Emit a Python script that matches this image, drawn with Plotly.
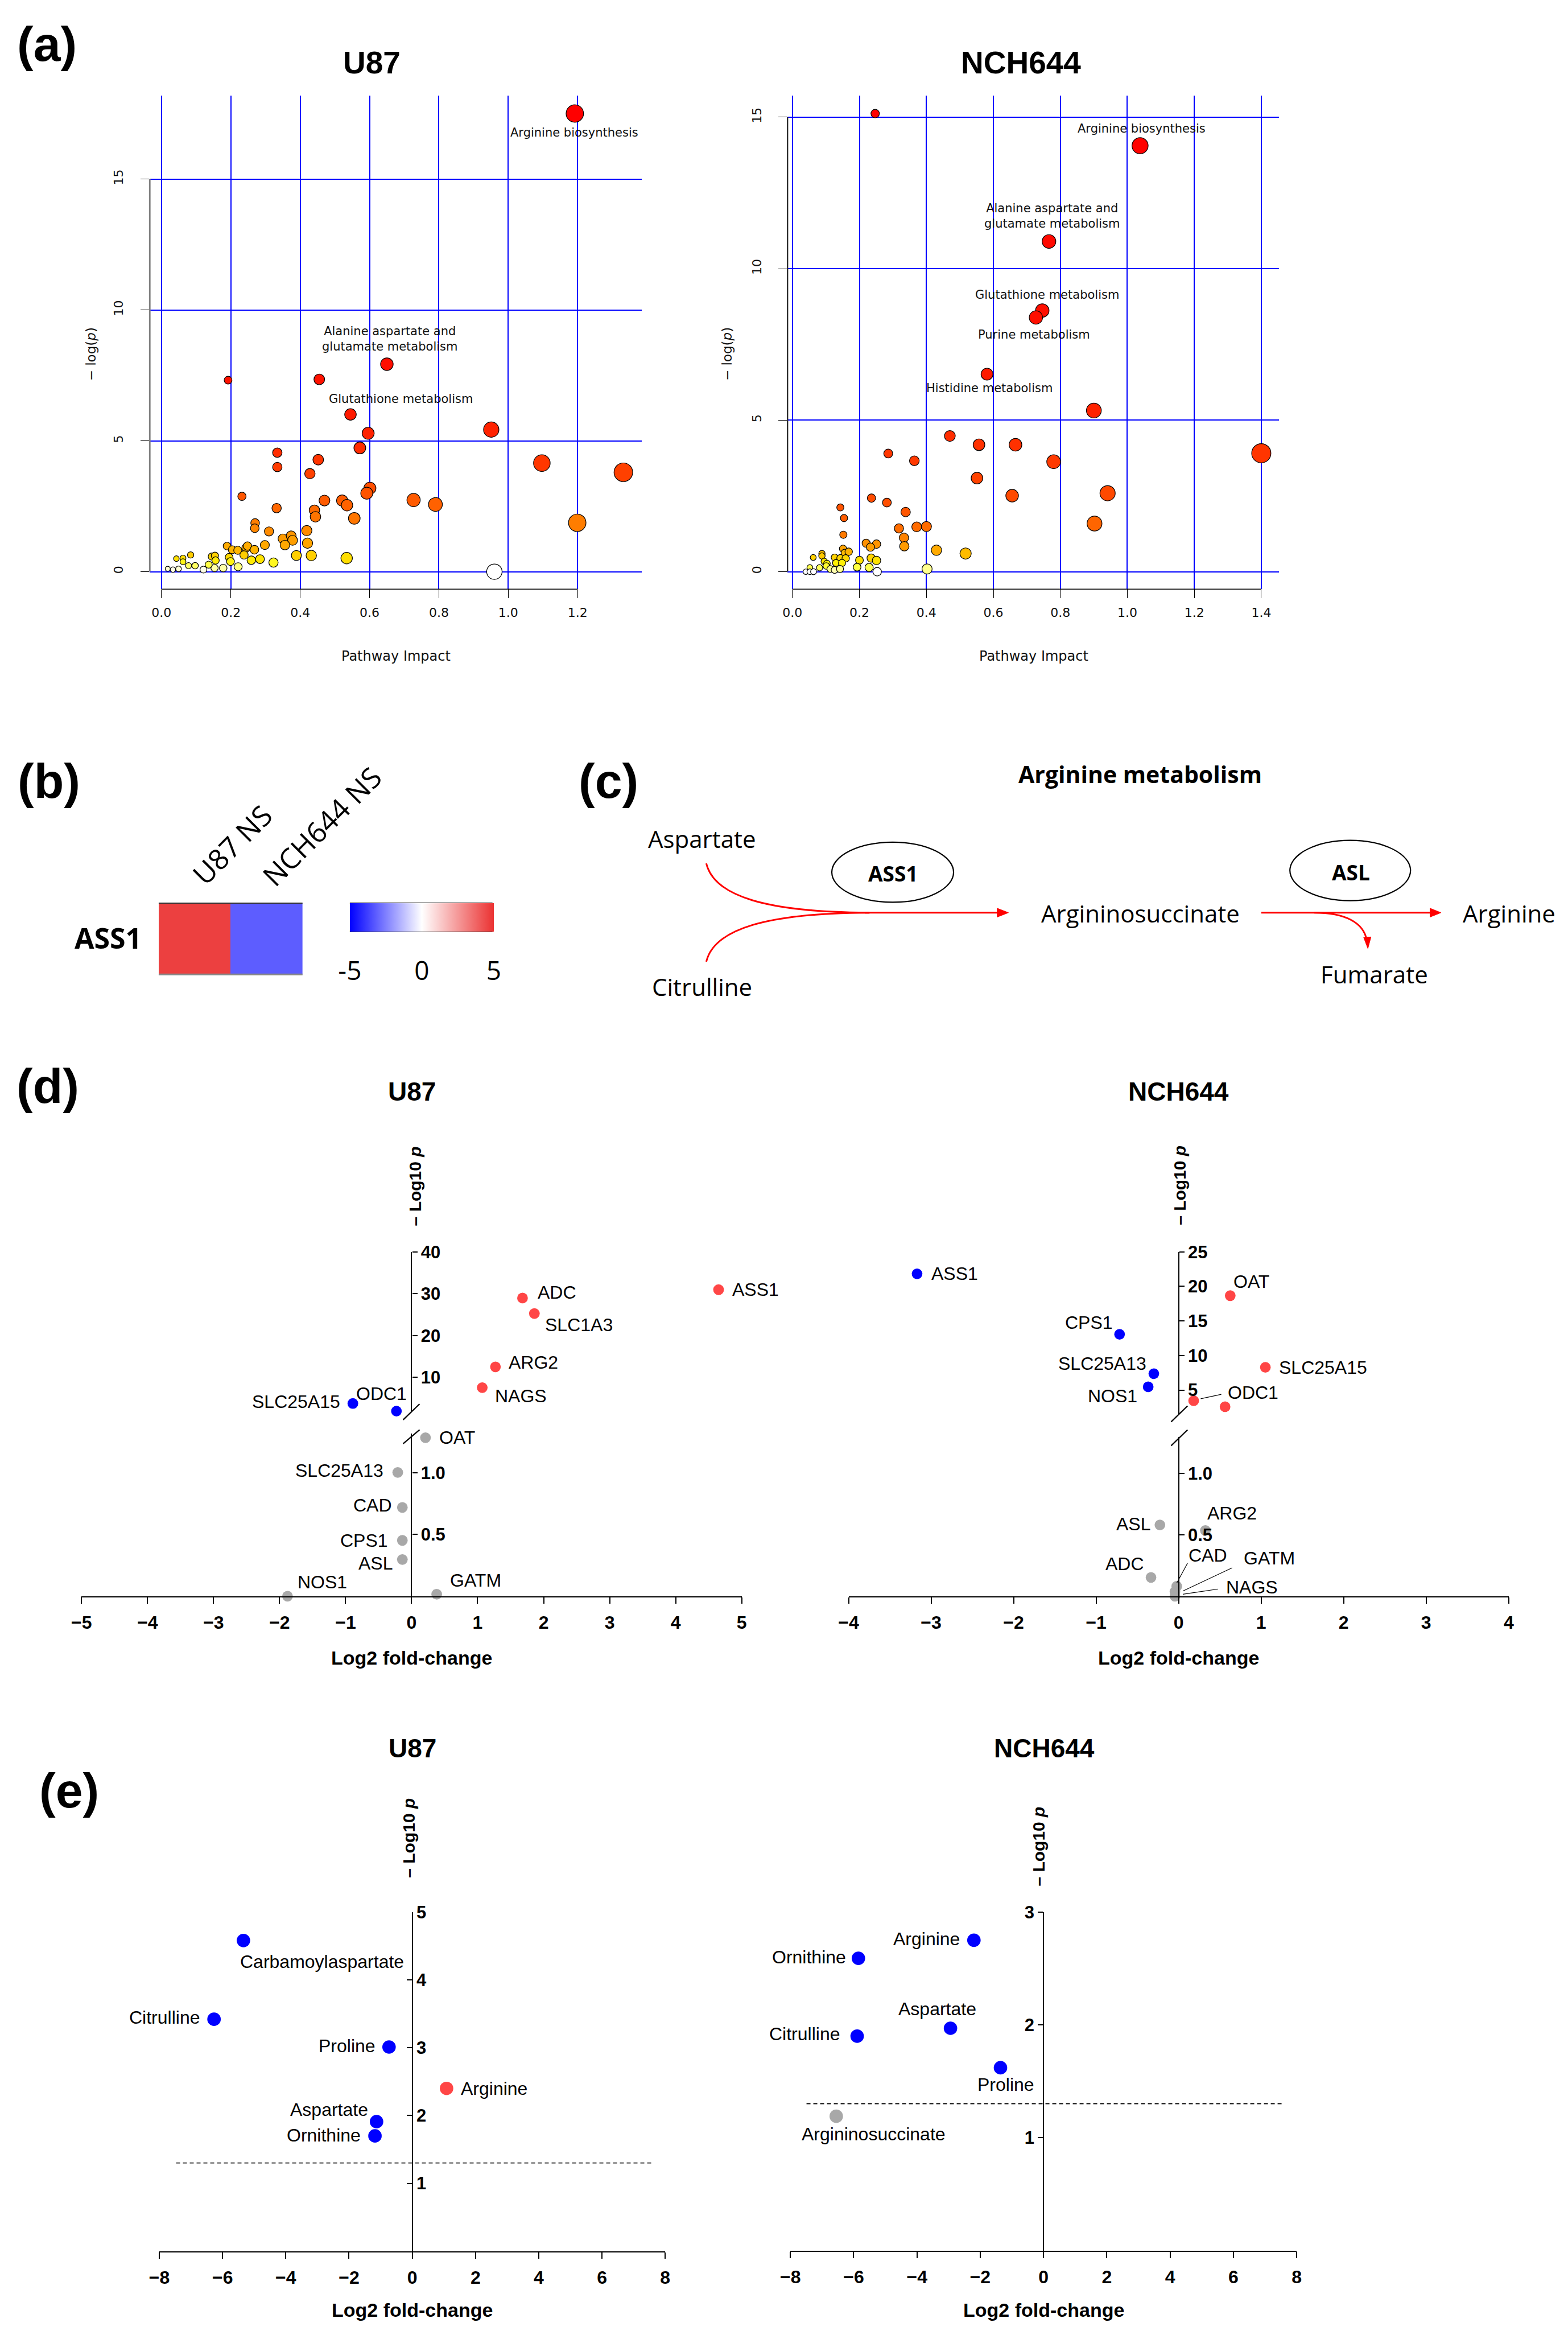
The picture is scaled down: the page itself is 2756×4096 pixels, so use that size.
import math
import plotly.graph_objects as go

W, H = 2756, 4096
RW, RH = 3379.0, 5022.0
K = W / RW
BODY = 8                      # default browser body margin around the figure div
FW, FH = W - 2 * BODY, H - 2 * BODY


def X(f):
    return (f * K - BODY) / FW


def Y(f):
    return 1.0 - (f * K - BODY) / FH


def L(f):
    return f * K


# ======================= DATA =======================
# (a) Pathway impact vs -log(p)
u87_impact = [1.192, 0.650, 0.192, 0.455, 0.545, 0.596, 0.951, 0.572, 1.097, 1.332, 0.601, 0.592, 0.521, 0.535, 0.727, 0.790, 0.556, 1.199, 0.534, 0.960,
              0.334, 0.334, 0.452, 0.428, 0.232, 0.332, 0.470, 0.441, 0.444, 0.270, 0.269, 0.310, 0.419, 0.350, 0.374, 0.378, 0.356, 0.421, 0.298, 0.189,
              0.204, 0.220, 0.244, 0.248, 0.268, 0.238, 0.259, 0.284, 0.323, 0.389, 0.432, 0.195, 0.199, 0.221, 0.178, 0.153, 0.121, 0.145, 0.154, 0.156,
              0.136, 0.097, 0.078, 0.084, 0.062, 0.062, 0.043, 0.049, 0.033, 0.018]
u87_logp = [17.51, 7.93, 7.32, 7.35, 6.01, 5.29, 5.43, 4.73, 4.15, 3.80, 3.19, 3.00, 2.72, 2.54, 2.74, 2.57, 2.04, 1.87, 0.52, 0.00,
            4.55, 4.00, 4.28, 3.75, 2.88, 2.43, 2.72, 2.35, 2.10, 1.86, 1.66, 1.54, 1.57, 1.26, 1.37, 1.20, 1.02, 1.09, 1.02, 0.98,
            0.84, 0.82, 0.91, 0.98, 0.84, 0.64, 0.44, 0.48, 0.35, 0.62, 0.62, 0.55, 0.39, 0.19, 0.14, 0.14, 0.08, 0.58, 0.61, 0.43,
            0.27, 0.23, 0.23, 0.64, 0.52, 0.38, 0.50, 0.11, 0.08, 0.11]
nch_impact = [0.247, 1.038, 0.766, 0.746, 0.727, 0.581, 0.900, 0.470, 0.557, 0.666, 1.400, 0.780, 0.551, 0.941, 0.656, 0.902, 0.517, 0.430,
              0.286, 0.364, 0.143, 0.154, 0.152, 0.236, 0.282, 0.338, 0.318, 0.371, 0.400, 0.333, 0.334, 0.220, 0.251, 0.233,
              0.151, 0.156, 0.168, 0.088, 0.088, 0.062, 0.126, 0.143, 0.159, 0.095, 0.103, 0.130, 0.148, 0.200, 0.235, 0.251,
              0.081, 0.101, 0.113, 0.126, 0.142, 0.193, 0.229, 0.253, 0.052, 0.040, 0.052, 0.063, 0.402]
nch_logp = [15.12, 14.06, 10.90, 8.62, 8.39, 6.52, 5.32, 4.48, 4.19, 4.19, 3.91, 3.63, 3.09, 2.59, 2.51, 1.59, 0.60, 0.71,
            3.90, 3.66, 2.12, 1.77, 1.22, 2.43, 2.28, 1.97, 1.43, 1.48, 1.49, 1.12, 0.84, 0.94, 0.91, 0.81,
            0.76, 0.62, 0.66, 0.60, 0.52, 0.47, 0.47, 0.45, 0.44, 0.34, 0.27, 0.29, 0.29, 0.38, 0.45, 0.37,
            0.13, 0.19, 0.09, 0.06, 0.09, 0.15, 0.14, 0.00, 0.14, 0.00, 0.00, 0.00, 0.09]
u87_pathways = ["Arginine biosynthesis", "Alanine aspartate and<br>glutamate metabolism", "Glutathione metabolism"]
nch_pathways = ["Arginine biosynthesis", "Alanine aspartate and<br>glutamate metabolism", "Glutathione metabolism",
                "Purine metabolism", "Histidine metabolism"]
a_xticks_u87 = [0.0, 0.2, 0.4, 0.6, 0.8, 1.0, 1.2]
a_xticks_nch = [0.0, 0.2, 0.4, 0.6, 0.8, 1.0, 1.2, 1.4]
a_yticks = [0, 5, 10, 15]

# (b) heatmap
heat_rows = ["ASS1"]
heat_cols = ["U87 NS", "NCH644 NS"]
ass1_log2fc = [4.65, -3.17]

# (d) gene volcano plots (upper = above axis break, lower = below)
d_u87_up_genes = ["ASS1", "ADC", "SLC1A3", "ARG2", "NAGS", "SLC25A15", "ODC1"]
d_u87_up_fc = [4.65, 1.68, 1.86, 1.27, 1.07, -0.89, -0.23]
d_u87_up_p = [30.95, 28.95, 25.24, 12.48, 7.52, 3.71, 1.90]
d_u87_lo_genes = ["OAT", "SLC25A13", "CAD", "CPS1", "ASL", "NOS1", "GATM"]
d_u87_lo_fc = [0.21, -0.21, -0.14, -0.14, -0.14, -1.88, 0.38]
d_u87_lo_p = [1.284, 1.003, 0.719, 0.452, 0.297, 0.0, 0.016]

d_nch_up_genes = ["ASS1", "OAT", "CPS1", "SLC25A15", "SLC25A13", "NOS1", "ODC1", "SLC1A3"]
d_nch_up_fc = [-3.17, 0.625, -0.716, 1.051, -0.301, -0.369, 0.182, 0.5625]
d_nch_up_p = [21.83, 18.66, 13.07, 8.29, 7.36, 5.46, 3.44, 2.58]
d_nch_lo_genes = ["ASL", "ARG2", "ADC", "CAD", "GATM", "NAGS"]
d_nch_lo_fc = [-0.227, 0.324, -0.335, -0.023, -0.045, -0.045]
d_nch_lo_p = [0.581, 0.536, 0.153, 0.081, 0.036, 0.0]

d_u87_xticks = [-5, -4, -3, -2, -1, 0, 1, 2, 3, 4, 5]
d_nch_xticks = [-4, -3, -2, -1, 0, 1, 2, 3, 4]
d_u87_up_yticks = [10, 20, 30, 40]
d_nch_up_yticks = [5, 10, 15, 20, 25]
d_lo_yticks = [0.5, 1.0]
d_lo_yticktext = ["0.5", "1.0"]

# (e) metabolite volcano plots
e_u87_mets = ["Carbamoylaspartate", "Citrulline", "Proline", "Arginine", "Aspartate", "Ornithine"]
e_u87_fc = [-5.34, -6.27, -0.735, 1.084, -1.13, -1.18]
e_u87_p = [4.58, 3.42, 3.01, 2.40, 1.91, 1.70]
e_nch_mets = ["Arginine", "Ornithine", "Aspartate", "Citrulline", "Proline", "Argininosuccinate"]
e_nch_fc = [-2.20, -5.85, -2.94, -5.89, -1.36, -6.55]
e_nch_p = [2.75, 2.59, 1.97, 1.90, 1.62, 1.19]
e_threshold = 1.301
e_xticks = [-8, -6, -4, -2, 0, 2, 4, 6, 8]
e_u87_yticks = [1, 2, 3, 4, 5]
e_nch_yticks = [1, 2, 3]

# ======================= STYLE =======================
RED = "#FF4646"
BLUE = "#0000FF"
GREY = "#A8A8A8"
ARIAL = "Liberation Sans"
RFONT = "DejaVu Sans"
CAL = "Open Sans"

fig = go.Figure()
shapes = []
anns = []


def ann(text, x, y, size, family=ARIAL, xref="paper", yref="paper", xanchor="center",
        yanchor="middle", angle=0, weight="normal", color="black"):
    anns.append(dict(text=text, x=x, y=y, xref=xref, yref=yref, xanchor=xanchor, yanchor=yanchor,
                     showarrow=False, textangle=angle,
                     font=dict(family=family, size=size, color=color, weight=weight)))


# ---------------- (a) ----------------
def bubble(v):
    return L(9 + 12 * math.sqrt(v) + 13 * v)


def cscale(stops):
    vmax = stops[-1][0]
    return [[v / vmax, c] for v, c in stops]


u87_stops = [(0, "#FFFFFF"), (0.1, "#FFFFE4"), (0.15, "#FFFF98"), (0.3, "#FFFF30"), (0.45, "#FFE800"),
             (0.6, "#FFD200"), (0.85, "#FFB200"), (1.2, "#FF9E00"), (1.6, "#FF8800"), (2.2, "#FF7000"),
             (2.8, "#FF5800"), (3.8, "#FF4000"), (4.5, "#FF2E00"), (6, "#FF1A00"), (8, "#FF0E00"),
             (max(u87_logp), "#FF0000")]
nch_stops = [(0, "#FFFFFF"), (0.02, "#FFFFDC"), (0.09, "#FFFF90"), (0.15, "#FFFF40"), (0.3, "#FFEE00"),
             (0.45, "#FFD400"), (0.6, "#FFBC00"), (0.75, "#FFA400"), (0.95, "#FF9000"), (1.3, "#FF7400"),
             (1.8, "#FF5A00"), (2.4, "#FF4C00"), (4, "#FF3400"), (5.3, "#FF2200"), (8, "#FF1000"),
             (max(nch_logp), "#FF0000")]

for xs, ys, stops, xa, ya in [(u87_impact, u87_logp, u87_stops, "x", "y"),
                               (nch_impact, nch_logp, nch_stops, "x2", "y2")]:
    fig.add_trace(go.Scatter(
        x=xs, y=ys, mode="markers", xaxis=xa, yaxis=ya, cliponaxis=False, showlegend=False,
        hoverinfo="skip",
        marker=dict(size=[bubble(v) for v in xs], color=ys, colorscale=cscale(stops), opacity=1,
                    cmin=0, cmax=stops[-1][0], line=dict(color="black", width=1.2))))

a_common = dict(showgrid=True, gridcolor="#0000FF", gridwidth=1.5, zeroline=True,
                zerolinecolor="#0000FF", zerolinewidth=1.5, showline=False, ticks="outside",
                ticklen=15, tickwidth=1.3, tickcolor="black",
                tickfont=dict(family=RFONT, size=22, color="#111"))
layout_axes = {}
layout_axes["xaxis"] = dict(domain=[X(303.6), X(1374.3)], range=[-0.0338, 1.385], tickvals=a_xticks_u87,
                            tickformat=".1f", anchor="y", ticklabelstandoff=6, **a_common)
layout_axes["yaxis"] = dict(domain=[Y(1253.7), Y(186.1)], range=[-0.668, 18.19], tickvals=a_yticks,
                            tickangle=-90, anchor="x", ticklabelstandoff=22, **a_common)
layout_axes["xaxis2"] = dict(domain=[X(1691.9), X(2761.8)], range=[-0.0143, 1.4536], tickvals=a_xticks_nch,
                             tickformat=".1f", anchor="y2", ticklabelstandoff=6, **a_common)
layout_axes["yaxis2"] = dict(domain=[Y(1253.7), Y(186.1)], range=[-0.577, 15.71], tickvals=a_yticks,
                             tickangle=-90, anchor="x2", ticklabelstandoff=22, **a_common)

shapes += [
    dict(type="line", xref="x", yref="y domain", x0=a_xticks_u87[0], x1=a_xticks_u87[-1], y0=0, y1=0,
         line=dict(color="black", width=1.6)),
    dict(type="line", xref="x domain", yref="y", x0=0, x1=0, y0=a_yticks[0], y1=a_yticks[-1],
         line=dict(color="#808080", width=2.8)),
    dict(type="line", xref="x2", yref="y2 domain", x0=a_xticks_nch[0], x1=a_xticks_nch[-1], y0=0, y1=0,
         line=dict(color="black", width=1.6)),
    dict(type="line", xref="x2 domain", yref="y2", x0=0, x1=0, y0=a_yticks[0], y1=a_yticks[-1],
         line=dict(color="black", width=1.8)),
]

u87_lab_pos = [(1.190, 16.79), (0.659, 8.89), (0.690, 6.60)]
nch_lab_pos = [(1.043, 14.63), (0.775, 11.74), (0.760, 9.14), (0.722, 7.83), (0.588, 6.06)]
for t, (lx, ly) in zip(u87_pathways, u87_lab_pos):
    ann(t, lx, ly, 21, family=RFONT, xref="x", yref="y", color="#111")
for t, (lx, ly) in zip(nch_pathways, nch_lab_pos):
    ann(t, lx, ly, 21, family=RFONT, xref="x2", yref="y2", color="#111")

ann("U87", X(787), Y(114), 55, weight="bold")
ann("NCH644", X(2200), Y(114), 55, weight="bold")
ann("Pathway Impact", X(839), Y(1398), 24, family=RFONT, color="#111")
ann("Pathway Impact", X(2227), Y(1398), 24, family=RFONT, color="#111")
ann("\u2212 log(<i>p</i>)", X(176), Y(745), 23, family=RFONT, angle=-90, color="#111")
ann("\u2212 log(<i>p</i>)", X(1560), Y(745), 23, family=RFONT, angle=-90, color="#111")

# ---------------- (b) ----------------
fig.add_trace(go.Heatmap(
    z=[ass1_log2fc], x=heat_cols, y=heat_rows, xaxis="x3", yaxis="y3", zmin=-5, zmax=5,
    colorscale=[[0, "#0000FF"], [0.5, "#FFFFFF"], [1, "#EB3232"]], hoverinfo="skip",
    colorbar=dict(orientation="h", x=X(739), xanchor="left", y=Y(1932.7), yanchor="top",
                  len=L(310.5), lenmode="pixels", thickness=L(61.3), thicknessmode="pixels",
                  outlinewidth=0, xpad=0, ypad=0, tickvals=[-5, 0, 5], ticktext=["-5", "0", "5"],
                  ticks="outside", ticklen=30, tickcolor="rgba(0,0,0,0)",
                  tickfont=dict(family=CAL, size=46, color="black"))))
layout_axes["xaxis3"] = dict(domain=[X(323), X(636)], visible=False, anchor="y3")
layout_axes["yaxis3"] = dict(domain=[Y(2087.7), Y(1932.7)], visible=False, anchor="x3")
shapes += [
    dict(type="line", xref="paper", yref="paper", x0=X(323), x1=X(636), y0=Y(1933), y1=Y(1933),
         line=dict(color="#333", width=2)),
    dict(type="line", xref="paper", yref="paper", x0=X(323), x1=X(636), y0=Y(2087), y1=Y(2087),
         line=dict(color="#888", width=3)),
    dict(type="line", xref="paper", yref="paper", x0=X(739), x1=X(1049.5), y0=Y(1933.5), y1=Y(1933.5),
         line=dict(color="black", width=3)),
    dict(type="line", xref="paper", yref="paper", x0=X(739), x1=X(1049.5), y0=Y(1993.5), y1=Y(1993.5),
         line=dict(color="black", width=3)),
    dict(type="line", xref="paper", yref="paper", x0=X(894.3), x1=X(894.3), y0=Y(1933), y1=Y(1994),
         line=dict(color="black", width=1.3)),
]
ann("ASS1", X(213), Y(2008), 50, family=CAL, weight="bold")
ann(heat_cols[0], X(483), Y(1806), 50, family=CAL, angle=-45)
ann(heat_cols[1], X(678), Y(1767), 50, family=CAL, angle=-45)

# ---------------- (c) ----------------


def pt(xf, yf):
    return f"{X(xf):.6f},{Y(yf):.6f}"


red_line = dict(color="#FF0000", width=L(3.6))
paths = [
    f"M {pt(1514.8, 1847)} C {pt(1532, 1918)} {pt(1644.7, 1952.3)} {pt(1870, 1953.5)}",
    f"M {pt(1514.8, 2059.5)} C {pt(1532, 1989)} {pt(1644.7, 1954.6)} {pt(1870, 1953.5)}",
    f"M {pt(1860, 1953.5)} L {pt(2152, 1953.5)}",
    f"M {pt(2722.7, 1953.5)} L {pt(3094, 1953.5)}",
    f"M {pt(2838, 1953.5)} C {pt(2905, 1953.5)} {pt(2945, 1975)} {pt(2952, 2012)}",
]
for p in paths:
    shapes.append(dict(type="path", xref="paper", yref="paper", path=p, line=red_line))
heads = [
    f"M {pt(2172.4, 1953.5)} L {pt(2148, 1944)} L {pt(2148, 1963)} Z",
    f"M {pt(3113.8, 1953.5)} L {pt(3090, 1944)} L {pt(3090, 1963)} Z",
    f"M {pt(2954.7, 2031)} L {pt(2945.5, 2007)} L {pt(2961.5, 2006)} Z",
]
for p in heads:
    shapes.append(dict(type="path", xref="paper", yref="paper", path=p, fillcolor="#FF0000",
                       line=dict(color="#FF0000", width=1)))
shapes += [
    dict(type="circle", xref="paper", yref="paper", x0=X(1788), x1=X(2053), y0=Y(1931), y1=Y(1801),
         line=dict(color="black", width=2.2)),
    dict(type="circle", xref="paper", yref="paper", x0=X(2785), x1=X(3047.5), y0=Y(1927.5), y1=Y(1797),
         line=dict(color="black", width=2.2)),
]
ann("Arginine metabolism", X(2459), Y(1653), 41, family=CAL, weight="bold")
ann("Aspartate", X(1505.5), Y(1793.5), 42, family=CAL)
ann("Citrulline", X(1505.5), Y(2113), 42, family=CAL)
ann("Argininosuccinate", X(2460), Y(1954), 42, family=CAL)
ann("Arginine", X(3262), Y(1954), 42, family=CAL)
ann("Fumarate", X(2968), Y(2086), 42, family=CAL)
ann("ASS1", X(1920.5), Y(1868), 37, family=CAL, weight="bold")
ann("ASL", X(2917.6), Y(1866), 37, family=CAL, weight="bold")

# ---------------- (d) ----------------


def sign_color(fc):
    return RED if fc > 0 else BLUE


msize_d = L(23)
for xs, ys, xa, ya, col in [
    (d_u87_up_fc, d_u87_up_p, "x4", "y5", [sign_color(v) for v in d_u87_up_fc]),
    (d_u87_lo_fc, d_u87_lo_p, "x4", "y4", [GREY] * len(d_u87_lo_fc)),
    (d_nch_up_fc, d_nch_up_p, "x5", "y7", [sign_color(v) for v in d_nch_up_fc]),
    (d_nch_lo_fc, d_nch_lo_p, "x5", "y6", [GREY] * len(d_nch_lo_fc)),
]:
    fig.add_trace(go.Scatter(x=xs, y=ys, mode="markers", xaxis=xa, yaxis=ya, cliponaxis=False,
                             showlegend=False, hoverinfo="skip",
                             marker=dict(size=msize_d, color=col, line=dict(width=0))))

vx_common = dict(showgrid=False, zeroline=False, showline=True, linecolor="black", linewidth=2.2,
                 ticks="outside", ticklen=11, tickwidth=2, tickcolor="black",
                 tickfont=dict(family=ARIAL, size=32, color="black", weight="bold"))
vy_common = dict(showgrid=False, zeroline=False, showline=True, linecolor="black", linewidth=2.2,
                 ticks="outside", ticklen=9, tickwidth=2, tickcolor="black", anchor="free",
                 tickfont=dict(family=ARIAL, size=31, color="black", weight="bold"))

layout_axes["xaxis4"] = dict(domain=[X(155.1), X(1591.8)], range=[-5, 5], tickvals=d_u87_xticks,
                             anchor="y4", ticklabelstandoff=6, **vx_common)
pos_u87 = X(873.4)
layout_axes["yaxis4"] = dict(domain=[Y(3432.2), Y(3079.8)], range=[0, 1.32], tickvals=d_lo_yticks,
                             ticktext=d_lo_yticktext, position=pos_u87, side="right", **vy_common)
layout_axes["yaxis5"] = dict(domain=[Y(3034.5), Y(2687.4)], range=[1.6, 40], tickvals=d_u87_up_yticks,
                             position=pos_u87, side="right", **vy_common)
layout_axes["xaxis5"] = dict(domain=[X(1824.5), X(3261.2)], range=[-4, 4], tickvals=d_nch_xticks,
                             anchor="y6", ticklabelstandoff=6, **vx_common)
pos_nch = X(2542.9)
layout_axes["yaxis6"] = dict(domain=[Y(3432.2), Y(3087.4)], range=[0, 1.30], tickvals=d_lo_yticks,
                             ticktext=d_lo_yticktext, position=pos_nch, side="right", **vy_common)
layout_axes["yaxis7"] = dict(domain=[Y(3038.5), Y(2687.4)], range=[1.5, 25], tickvals=d_nch_up_yticks,
                             position=pos_nch, side="right", **vy_common)

# axis-break slashes
for (x0, y0, x1, y1) in [(855, 3050.7, 890.8, 3016.3), (855, 3102.4, 890.8, 3072.3),
                         (2526.5, 3055, 2562.2, 3020.6), (2526.5, 3106.7, 2562.2, 3072.3)]:
    shapes.append(dict(type="line", xref="paper", yref="paper", x0=X(x0), y0=Y(y0), x1=X(x1), y1=Y(y1),
                       line=dict(color="black", width=2.2)))

# gene labels: (x, y, anchor, axis-tag)
d_u87_labels = {
    "ASS1": (4.84, 30.95, "left", "up"), "ADC": (1.896, 30.3, "left", "up"),
    "SLC1A3": (2.003, 22.48, "left", "up"), "ARG2": (1.449, 13.52, "left", "up"),
    "NAGS": (1.243, 5.52, "left", "up"), "SLC25A15": (-1.065, 4.19, "right", "up"),
    "ODC1": (-0.057, 6.0, "right", "up"), "OAT": (0.405, 1.284, "left", "lo"),
    "SLC25A13": (-0.412, 1.016, "right", "lo"), "CAD": (-0.284, 0.735, "right", "lo"),
    "CPS1": (-0.341, 0.452, "right", "lo"), "ASL": (-0.270, 0.268, "right", "lo"),
    "NOS1": (-1.747, 0.116, "left", "lo"), "GATM": (0.568, 0.129, "left", "lo"),
}
d_nch_labels = {
    "ASS1": (-3.011, 21.83, "left", "up"), "OAT": (0.648, 20.68, "left", "up"),
    "CPS1": (-0.784, 14.74, "right", "up"), "SLC25A15": (1.199, 8.29, "left", "up"),
    "SLC25A13": (-0.375, 8.80, "right", "up"), "NOS1": (-0.489, 4.14, "right", "up"),
    "ODC1": (0.580, 4.60, "left", "up"), "SLC1A3": (0.608, 0.56, "left", "up"),
    "ASL": (-0.330, 0.588, "right", "lo"), "ARG2": (0.335, 0.675, "left", "lo"),
    "ADC": (-0.403, 0.263, "right", "lo"), "CAD": (0.108, 0.334, "left", "lo"),
    "GATM": (0.778, 0.308, "left", "lo"), "NAGS": (0.5625, 0.075, "left", "lo"),
}
for labs, xa, yup, ylo in [(d_u87_labels, "x4", "y5", "y4"), (d_nch_labels, "x5", "y7", "y6")]:
    for g, (lx, ly, anc, tag) in labs.items():
        ann(g, lx, ly, 32, xref=xa, yref=(yup if tag == "up" else ylo), xanchor=anc)

# leader lines (NCH644)
for (x0, y0, x1, y1, ya) in [(0.267, 3.73, 0.517, 4.37, "y7"), (-0.023, 0.107, 0.108, 0.269, "y6"),
                             (0.051, 0.042, 0.648, 0.231, "y6"), (0.051, 0.016, 0.477, 0.058, "y6")]:
    shapes.append(dict(type="line", xref="x5", yref=ya, x0=x0, y0=y0, x1=x1, y1=y1,
                       line=dict(color="black", width=1.2)))

ann("U87", X(873.5), Y(2340), 46, weight="bold")
ann("NCH644", X(2543), Y(2340), 46, weight="bold")
ann("Log2 fold-change", X(873.5), Y(3565), 34, weight="bold")
ann("Log2 fold-change", X(2543), Y(3565), 34, weight="bold")
ann("\u2013 Log10 <i>p</i>", X(880.6), Y(2545), 30, angle=-90, weight="bold")
ann("\u2013 Log10 <i>p</i>", X(2544.9), Y(2543), 30, angle=-90, weight="bold")

# ---------------- (e) ----------------


def sig_color(fc, p):
    if p < e_threshold:
        return GREY
    return RED if fc > 0 else BLUE


msize_e = L(29)
for xs, ys, xa, ya in [(e_u87_fc, e_u87_p, "x6", "y8"), (e_nch_fc, e_nch_p, "x7", "y9")]:
    fig.add_trace(go.Scatter(x=xs, y=ys, mode="markers", xaxis=xa, yaxis=ya, cliponaxis=False,
                             showlegend=False, hoverinfo="skip",
                             marker=dict(size=msize_e, color=[sig_color(a, b) for a, b in zip(xs, ys)],
                                         line=dict(width=0))))

layout_axes["xaxis6"] = dict(domain=[X(324.4), X(1425.4)], range=[-8, 8], tickvals=e_xticks,
                             anchor="y8", ticklabelstandoff=6, **vx_common)
ey_common = dict(vy_common)
ey_u = dict(ey_common)
ey_u["ticks"] = "inside"
layout_axes["yaxis8"] = dict(domain=[Y(4849.4), Y(4115.5)], range=[0, 5], tickvals=e_u87_yticks,
                             position=X(874.9), side="right", **ey_u)
layout_axes["xaxis7"] = dict(domain=[X(1697.8), X(2799.7)], range=[-8, 8], tickvals=e_xticks,
                             anchor="y9", ticklabelstandoff=6, **vx_common)
layout_axes["yaxis9"] = dict(domain=[Y(4847.9), Y(4115.5)], range=[0, 3], tickvals=e_nch_yticks,
                             position=X(2248.8), side="left", **ey_common)

for xa, ya, x0, x1 in [("x6", "y8", -7.47, 7.59), ("x7", "y9", -7.49, 7.56)]:
    shapes.append(dict(type="line", xref=xa, yref=ya, x0=x0, x1=x1, y0=e_threshold, y1=e_threshold,
                       line=dict(color="black", width=1.6, dash="7px,5px")))

e_u87_labels = {
    "Carbamoylaspartate": (-5.48, 4.27, "left"), "Citrulline": (-6.69, 3.45, "right"),
    "Proline": (-1.12, 3.03, "right"), "Arginine": (1.506, 2.40, "left"),
    "Aspartate": (-1.36, 2.09, "right"), "Ornithine": (-1.59, 1.71, "right"),
}
e_nch_labels = {
    "Arginine": (-2.61, 2.76, "right"), "Ornithine": (-6.20, 2.60, "right"),
    "Aspartate": (-3.36, 2.14, "center"), "Citrulline": (-6.41, 1.92, "right"),
    "Proline": (-1.19, 1.47, "center"), "Argininosuccinate": (-5.37, 1.03, "center"),
}
for labs, xa, ya in [(e_u87_labels, "x6", "y8"), (e_nch_labels, "x7", "y9")]:
    for m, (lx, ly, anc) in labs.items():
        ann(m, lx, ly, 32, xref=xa, yref=ya, xanchor=anc)

ann("U87", X(875.7), Y(3761), 46, weight="bold")
ann("NCH644", X(2250.8), Y(3761), 46, weight="bold")
ann("Log2 fold-change", X(875), Y(4977), 34, weight="bold")
ann("Log2 fold-change", X(2249), Y(4977), 34, weight="bold")
ann("\u2013 Log10 <i>p</i>", X(867.4), Y(3956), 30, angle=-90, weight="bold")
ann("\u2013 Log10 <i>p</i>", X(2238.4), Y(3974), 30, angle=-90, weight="bold")

# ---------------- panel letters ----------------
for letter, fx, fy in [("(a)", 80, 74), ("(b)", 84, 1668), ("(c)", 1302, 1668),
                       ("(d)", 82, 2328), ("(e)", 128, 3852)]:
    ann(letter, X(fx), Y(fy), 86, weight="bold")

fig.update_layout(
    width=FW, height=FH, margin=dict(l=0, r=0, t=0, b=0, pad=0),
    paper_bgcolor="white", plot_bgcolor="white", showlegend=False,
    font=dict(family=ARIAL, color="black"),
    shapes=shapes, annotations=anns, **layout_axes)

fig.write_html("out.html")
